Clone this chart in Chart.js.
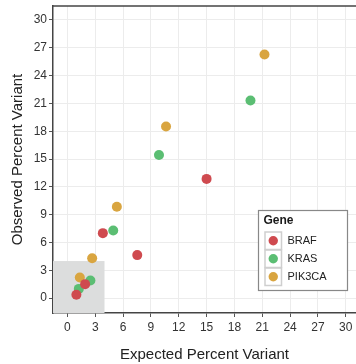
<!DOCTYPE html>
<html>
<head>
<meta charset="utf-8">
<script src="https://cdn.jsdelivr.net/npm/chart.js@4.4.0/dist/chart.umd.min.js"></script>
<style>
  html, body { margin: 0; padding: 0; background: #fff; }
  #wrap { width: 356px; height: 364px; position: relative; }
</style>
</head>
<body>
<div id="wrap"><canvas id="c" width="356" height="364"></canvas></div>
<script>
// ---- data ----
const genes = ["BRAF", "KRAS", "PIK3CA"];
const geneColors = ["#CF4A4F", "#5BBE73", "#D9A540"];
const brafX = [0.97, 1.91, 3.82, 7.53, 15.0];
const brafY = [0.36, 1.51, 7.01, 4.64, 12.86];
const krasX = [1.23, 2.48, 4.94, 9.87, 19.73];
const krasY = [1.0, 1.9, 7.3, 15.43, 21.32];
const pikX = [1.34, 2.67, 5.33, 10.63, 21.24];
const pikY = [2.22, 4.31, 9.85, 18.5, 26.28];
const xTicks = [0, 3, 6, 9, 12, 15, 18, 21, 24, 27, 30];
const yTicks = [0, 3, 6, 9, 12, 15, 18, 21, 24, 27, 30];
const xRange = [-1.55, 31.1];
const yRange = [-1.6, 31.5];
const highlightMax = [4, 4]; // shaded region upper corner (x, y), from axis minimum
const xTitle = "Expected Percent Variant";
const yTitle = "Observed Percent Variant";
const legendTitle = "Gene";

const toPts = (xs, ys) => xs.map((x, i) => ({ x: x, y: ys[i] }));
const seriesX = [brafX, krasX, pikX];
const seriesY = [brafY, krasY, pikY];

const FONT = "'Liberation Sans', Arial, sans-serif";

const shadePlugin = {
  id: 'shade',
  beforeDatasetsDraw(chart) {
    const { ctx, chartArea, scales } = chart;
    const x1 = scales.x.getPixelForValue(highlightMax[0]);
    const y1 = scales.y.getPixelForValue(highlightMax[1]);
    ctx.save();
    ctx.fillStyle = '#DCDDDD';
    ctx.fillRect(chartArea.left, y1, x1 - chartArea.left, chartArea.bottom - y1);
    ctx.restore();
  },
  afterDraw(chart) {
    const { ctx, chartArea } = chart;
    ctx.save();
    ctx.strokeStyle = '#444';
    ctx.lineWidth = 1.5;
    ctx.beginPath();
    ctx.moveTo(chartArea.left, chartArea.top);
    ctx.lineTo(chartArea.right, chartArea.top);
    ctx.stroke();
    ctx.restore();
  }
};

const legendPlugin = {
  id: 'geneLegend',
  afterDatasetsDraw(chart) {
    const { ctx, chartArea } = chart;
    const L = chartArea.right - 97.5, T = chartArea.top + 204.5, W = 89, H = 80;
    ctx.save();
    ctx.fillStyle = '#fff';
    ctx.fillRect(L, T, W, H);
    ctx.strokeStyle = '#888';
    ctx.lineWidth = 1.2;
    ctx.strokeRect(L, T, W, H);
    ctx.fillStyle = '#1a1a1a';
    ctx.font = "bold 12px " + FONT;
    ctx.textBaseline = 'middle';
    ctx.textAlign = 'left';
    ctx.fillText(legendTitle, L + 5, T + 10);
    genes.forEach((g, i) => {
      const ky = T + 21.5 + i * 18;
      ctx.strokeStyle = '#CFCFCF';
      ctx.lineWidth = 1.5;
      ctx.strokeRect(L + 6.5, ky, 16.5, 17.5);
      ctx.fillStyle = geneColors[i];
      ctx.beginPath();
      ctx.arc(L + 14.75, ky + 8.75, 4.7, 0, Math.PI * 2);
      ctx.fill();
      ctx.fillStyle = '#222';
      ctx.font = "11px " + FONT;
      ctx.fillText(g, L + 29, ky + 9);
    });
    ctx.restore();
  }
};

new Chart(document.getElementById('c'), {
  type: 'scatter',
  data: {
    datasets: genes.map((g, i) => ({
      label: g,
      data: toPts(seriesX[i], seriesY[i]),
      backgroundColor: geneColors[i],
      borderWidth: 0,
      pointRadius: 5,
      pointHoverRadius: 5
    }))
  },
  options: {
    responsive: false,
    animation: false,
    events: [],
    layout: { autoPadding: false, padding: { top: 6, right: 0, left: 0, bottom: 0 } },
    plugins: { legend: { display: false }, tooltip: { enabled: false } },
    scales: {
      x: {
        type: 'linear',
        min: xRange[0], max: xRange[1],
        afterBuildTicks(s) { s.ticks = xTicks.map(v => ({ value: v })); },
        afterFit(s) { s.height = 51; s.paddingLeft = 0; s.paddingRight = 0; },
        grid: { color: '#ECECEC', lineWidth: 1, drawTicks: true, tickLength: 4, tickColor: '#555', tickWidth: 1 },
        border: { color: '#444', width: 1.5 },
        ticks: { color: '#333', font: { family: FONT, size: 12 }, padding: 3, maxRotation: 0, autoSkip: false },
        title: { display: true, text: xTitle, color: '#222', font: { family: FONT, size: 15 }, padding: { top: 9, bottom: 0 } }
      },
      y: {
        type: 'linear',
        min: yRange[0], max: yRange[1],
        afterBuildTicks(s) { s.ticks = yTicks.map(v => ({ value: v })); },
        afterFit(s) { s.width = 53; s.paddingTop = 0; s.paddingBottom = 0; },
        grid: { color: '#ECECEC', lineWidth: 1, drawTicks: true, tickLength: 4, tickColor: '#555', tickWidth: 1 },
        border: { color: '#444', width: 1.5 },
        ticks: { color: '#333', font: { family: FONT, size: 12 }, padding: 2, autoSkip: false },
        title: { display: true, text: yTitle, color: '#222', font: { family: FONT, size: 15 }, padding: { top: 9, bottom: 4 } }
      }
    }
  },
  plugins: [shadePlugin, legendPlugin]
});
</script>
</body>
</html>
